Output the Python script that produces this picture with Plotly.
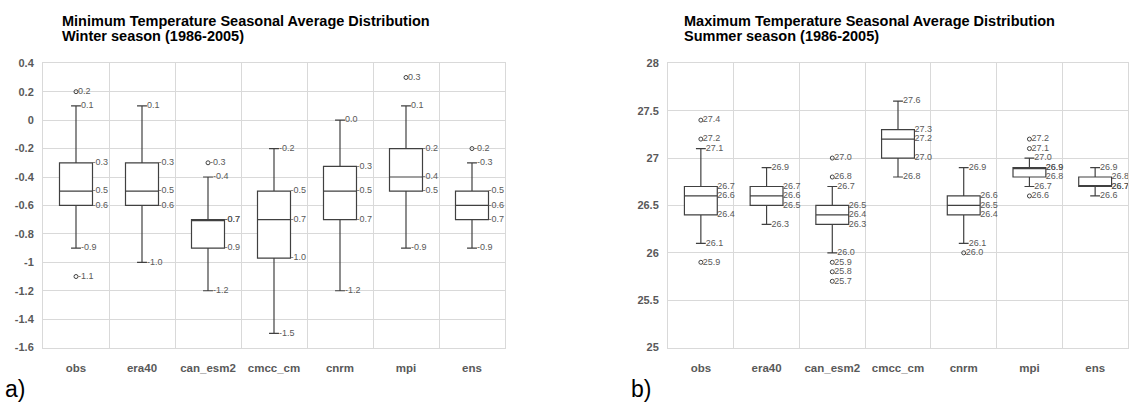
import plotly.graph_objects as go

categories = ["obs", "era40", "can_esm2", "cmcc_cm", "cnrm", "mpi", "ens"]

# Panel a) Minimum temperature, winter
a_low = [-0.9, -1.0, -1.2, -1.5, -1.2, -0.9, -0.9]
a_q1 = [-0.6, -0.6, -0.9, -0.97, -0.7, -0.5, -0.7]
a_med = [-0.5, -0.5, -0.7, -0.7, -0.5, -0.4, -0.6]
a_q3 = [-0.3, -0.3, -0.7, -0.5, -0.325, -0.2, -0.5]
a_high = [0.1, 0.1, -0.4, -0.2, 0.0, 0.1, -0.3]
a_outliers = [[0.2, -1.1], [], [-0.3], [], [], [0.3], [-0.2]]
a_ticks = [0.4, 0.2, 0, -0.2, -0.4, -0.6, -0.8, -1, -1.2, -1.4, -1.6]
a_ticktext = ["0.4", "0.2", "0", "-0.2", "-0.4", "-0.6", "-0.8", "-1", "-1.2", "-1.4", "-1.6"]

# Panel b) Maximum temperature, summer
b_low = [26.1, 26.3, 26.0, 26.8, 26.1, 26.7, 26.6]
b_q1 = [26.4, 26.5, 26.3, 27.0, 26.4, 26.8, 26.7]
b_med = [26.6, 26.6, 26.4, 27.2, 26.5, 26.9, 26.7]
b_q3 = [26.7, 26.7, 26.5, 27.3, 26.6, 26.9, 26.8]
b_high = [27.1, 26.9, 26.7, 27.6, 26.9, 27.0, 26.9]
b_outliers = [[27.2, 27.4, 25.9], [], [26.8, 27.0, 25.9, 25.8, 25.7], [], [26.0], [27.1, 27.2, 26.6], []]
b_ticks = [25, 25.5, 26, 26.5, 27, 27.5, 28]
b_ticktext = ["25", "25.5", "26", "26.5", "27", "27.5", "28"]

titles_a = ["Minimum Temperature Seasonal Average Distribution", "Winter season (1986-2005)"]
titles_b = ["Maximum Temperature Seasonal Average Distribution", "Summer season (1986-2005)"]

W, H = 1131, 407
LINE = "#404040"
LBL = "#595959"
GRID = "#d9d9d9"
BOXW = 0.5
WW = 0.3
FONT = "Liberation Sans, Arial"

fig = go.Figure()


def fmt(v):
    s = f"{v:.1f}"
    return "0.0" if s == "-0.0" else s


def add_panel(xa, ya, low, q1, med, q3, high, outs):
    pos = list(range(len(categories)))
    fig.add_trace(go.Box(
        x=pos, q1=q1, median=med, q3=q3, lowerfence=low, upperfence=high,
        width=BOXW, whiskerwidth=WW, boxpoints=False,
        line=dict(color=LINE, width=1.2), fillcolor="white",
        xaxis=xa, yaxis=ya, showlegend=False, hoverinfo="skip"))
    ox, oy = [], []
    tx, ty, tt = [], [], []
    for i in pos:
        for v, dx in ((low[i], BOXW * WW / 2), (q1[i], BOXW / 2), (med[i], BOXW / 2),
                      (q3[i], BOXW / 2), (high[i], BOXW * WW / 2)):
            tx.append(i + dx); ty.append(v); tt.append(fmt(v))
        for v in outs[i]:
            ox.append(i); oy.append(v)
            tx.append(i + 0.03); ty.append(v); tt.append(fmt(v))
    fig.add_trace(go.Scatter(
        x=ox, y=oy, mode="markers", xaxis=xa, yaxis=ya, showlegend=False,
        marker=dict(symbol="circle-open", size=4, color=LINE, line=dict(width=1)),
        hoverinfo="skip"))
    fig.add_trace(go.Scatter(
        x=tx, y=ty, mode="text", text=tt, textposition="middle right",
        textfont=dict(family=FONT, size=9, color=LBL),
        xaxis=xa, yaxis=ya, showlegend=False, hoverinfo="skip"))


add_panel("x", "y", a_low, a_q1, a_med, a_q3, a_high, a_outliers)
add_panel("x2", "y2", b_low, b_q1, b_med, b_q3, b_high, b_outliers)

ybot = 1 - 352 / H
ytop = 1 - 59 / H


def xaxis(dom, anchor):
    return dict(domain=dom, anchor=anchor, range=[-0.5, 6.5],
                tickmode="array", tickvals=list(range(7)), ticktext=categories,
                showgrid=False, zeroline=False, showline=True, mirror=True,
                linecolor=GRID, linewidth=1, ticks="", ticklabelstandoff=10,
                tickfont=dict(family=FONT, size=11.5, color=LBL, weight="bold"),
                minor=dict(tickmode="array", tickvals=[0.5, 1.5, 2.5, 3.5, 4.5, 5.5],
                           showgrid=True, gridcolor=GRID, gridwidth=1, ticks=""))


def yaxis(rng, tv, tt, anchor):
    return dict(domain=[ybot, ytop], anchor=anchor, range=rng,
                tickmode="array", tickvals=tv, ticktext=tt,
                showgrid=True, gridcolor=GRID, gridwidth=1, zeroline=False,
                showline=True, mirror=True, linecolor=GRID, linewidth=1,
                ticks="", ticklabelstandoff=6,
                tickfont=dict(family=FONT, size=11, color=LBL, weight="bold"))


def title_ann(x, y, text):
    return dict(xref="paper", yref="paper", x=x / W, y=1 - y / H, xanchor="left", yanchor="middle",
                text="<b>" + text + "</b>", showarrow=False,
                font=dict(family=FONT, size=14.5, color="black"))


fig.update_layout(
    width=W, height=H, margin=dict(l=0, r=0, t=0, b=0),
    paper_bgcolor="white", plot_bgcolor="white",
    xaxis=xaxis([43 / W, 505 / W], "y"),
    yaxis=yaxis([-1.6, 0.4], a_ticks, a_ticktext, "x"),
    xaxis2=xaxis([668 / W, 1128 / W], "y2"),
    yaxis2=yaxis([25, 28], b_ticks, b_ticktext, "x2"),
    annotations=[
        title_ann(60, 15, titles_a[0]),
        title_ann(60, 30.5, titles_a[1]),
        title_ann(682, 15, titles_b[0]),
        title_ann(682, 30.5, titles_b[1]),
        dict(xref="paper", yref="paper", x=3 / W, y=1 - 395 / H, xanchor="left", yanchor="middle",
             text="a)", showarrow=False,
             font=dict(family=FONT, size=23, color="black")),
        dict(xref="paper", yref="paper", x=629 / W, y=1 - 395 / H, xanchor="left", yanchor="middle",
             text="b)", showarrow=False,
             font=dict(family=FONT, size=23, color="black")),
    ],
)

fig.write_html("out.html")
